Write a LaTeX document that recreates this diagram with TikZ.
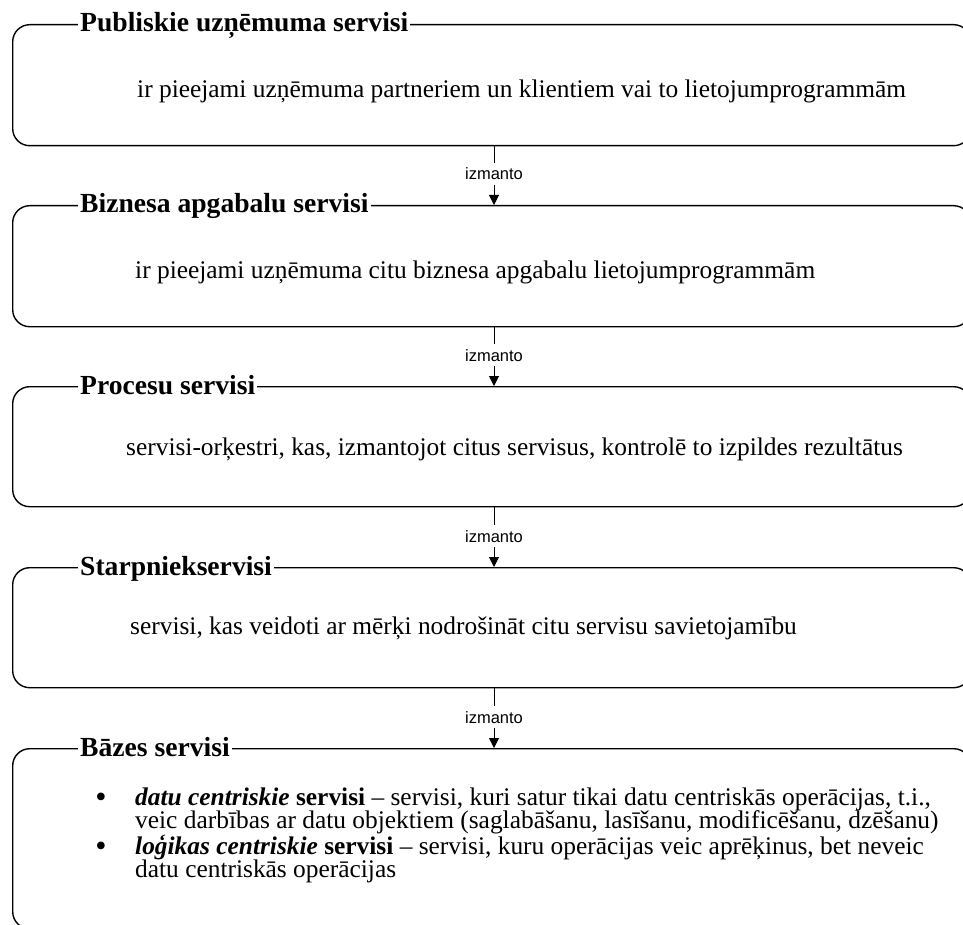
\documentclass[tikz,border=0pt]{standalone}
\usepackage{fontspec}
\setmainfont{Liberation Serif}
\newfontfamily\labelfont{Liberation Sans}
\usetikzlibrary{arrows.meta}

\tikzset{
  layer/.style={draw, line width=1.4pt, rounded corners=17pt,
    minimum width=958pt, inner sep=0pt, anchor=north west},
  layertitle/.style={fill=white, inner xsep=2pt, inner ysep=1pt, anchor=base west,
    font=\fontsize{27.6}{31}\selectfont\bfseries},
  bodytext/.style={anchor=base west, inner sep=0pt,
    font=\fontsize{25.4}{29}\selectfont},
  bulletmark/.style={anchor=base, inner sep=0pt,
    font=\fontsize{32}{34}\selectfont},
  useslabel/.style={fill=white, inner xsep=2pt, inner ysep=5pt, anchor=base,
    font=\labelfont\fontsize{16.5}{18}\selectfont},
  link/.style={line width=1pt},
  linkarrow/.style={line width=1pt, -{Triangle[width=10pt,length=10pt]}}
}

\begin{document}
\begin{tikzpicture}[x=1pt, y=-1pt]
  \clip (0,0) rectangle (963,925);

  % service layers
  \node[layer, minimum height=121pt] (l1) at (12,24) {};
  \node[layer, minimum height=121pt] (l2) at (12,205) {};
  \node[layer, minimum height=120pt] (l3) at (12,386) {};
  \node[layer, minimum height=120pt] (l4) at (12,567) {};
  \node[layer, minimum height=180pt] (l5) at (12,748) {};

  % layer titles on the top border
  \node[layertitle] (t1) at (78,32)  {Publiskie uzņēmuma servisi};
  \node[layertitle] (t2) at (78,213) {Biznesa apgabalu servisi};
  \node[layertitle] (t3) at (78,394) {Procesu servisi};
  \node[layertitle] (t4) at (78,575) {Starpniekservisi};
  \node[layertitle] (t5) at (78,756) {Bāzes servisi};

  % descriptions
  \node[bodytext] (d1) at (137,98)  {ir pieejami uzņēmuma partneriem un klientiem vai to lietojumprogrammām};
  \node[bodytext] (d2) at (135,278) {ir pieejami uzņēmuma citu biznesa apgabalu lietojumprogrammām};
  \node[bodytext] (d3) at (126,455) {servisi-orķestri, kas, izmantojot citus servisus, kontrolē to izpildes rezultātus};
  \node[bodytext] (d4) at (130,634) {servisi, kas veidoti ar mērķi nodrošināt citu servisu savietojamību};

  % base services list
  \node[bulletmark] (m1) at (101,807) {\textbullet};
  \node[bodytext] (e1) at (135,805) {\textbf{\textit{datu centriskie} servisi} – servisi, kuri satur tikai datu centriskās operācijas, t.i.,};
  \node[bodytext] (e2) at (135,828) {veic darbības ar datu objektiem (saglabāšanu, lasīšanu, modificēšanu, dzēšanu)};
  \node[bulletmark] (m2) at (101,856) {\textbullet};
  \node[bodytext] (e3) at (135,854) {\textbf{\textit{loģikas centriskie} servisi} – servisi, kuru operācijas veic aprēķinus, bet neveic};
  \node[bodytext] (e4) at (135,877) {datu centriskās operācijas};

  % "uses" connectors between layers
  \node[useslabel] (u1) at (494,180) {izmanto};
  \node[useslabel] (u2) at (494,361) {izmanto};
  \node[useslabel] (u3) at (494,542) {izmanto};
  \node[useslabel] (u4) at (494,723) {izmanto};

  \draw[link] (l1.south -| u1) -- (u1);
  \draw[linkarrow] (u1) -- (l2.north -| u1);
  \draw[link] (l2.south -| u2) -- (u2);
  \draw[linkarrow] (u2) -- (l3.north -| u2);
  \draw[link] (l3.south -| u3) -- (u3);
  \draw[linkarrow] (u3) -- (l4.north -| u3);
  \draw[link] (l4.south -| u4) -- (u4);
  \draw[linkarrow] (u4) -- (l5.north -| u4);
\end{tikzpicture}
\end{document}
